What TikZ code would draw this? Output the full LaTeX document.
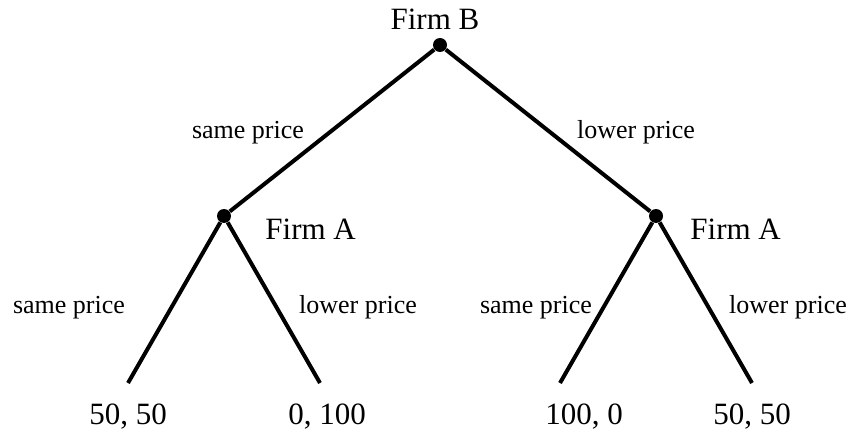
\documentclass[tikz,border=0pt]{standalone}
\usepackage{fontspec}
\setmainfont{Liberation Serif}
\usetikzlibrary{positioning}
\tikzset{
    decision/.style={circle,fill=black,inner sep=0pt,minimum size=7pt},
    every edge/.style={draw,line width=2pt},
    player/.style={font=\fontsize{15.5}{18}\selectfont,inner sep=0pt},
    move/.style={font=\fontsize{13}{15}\selectfont,inner sep=0pt,anchor=base},
    payoff/.style={font=\fontsize{15.5}{18}\selectfont,inner sep=0pt,anchor=base},
}
\begin{document}
\begin{tikzpicture}[x=0.5pt,y=-0.5pt]
    \useasboundingbox (0,0) rectangle (852,433);

    % decision nodes
    \node[decision] (fb) at (440,45) {};
    \node[decision] (fal) at (224,216) {};
    \node[decision] (far) at (656,216) {};

    % ends of the branches
    \coordinate (ll) at (128,383);
    \coordinate (lr) at (320,383);
    \coordinate (rl) at (560,383);
    \coordinate (rr) at (752,383);

    \path
    (fb) edge (fal)
    (fb) edge (far)
    (fal) edge (ll)
    (fal) edge (lr)
    (far) edge (rl)
    (far) edge (rr);

    % players
    \node[player,anchor=base] (nb) at (435,30) {Firm B};
    \node[player,anchor=base west] (nal) at (265,239) {Firm A};
    \node[player,anchor=base west] (nar) at (690,239) {Firm A};

    % moves
    \node[move] (mbs) at (248,139) {same price};
    \node[move] (mbl) at (636,139) {lower price};
    \node[move] (mls) at (69,313) {same price};
    \node[move] (mll) at (358,313) {lower price};
    \node[move] (mrs) at (536,313) {same price};
    \node[move] (mrl) at (788,313) {lower price};

    % payoffs
    \node[payoff] (pll) at (128,424) {50, 50};
    \node[payoff] (plr) at (327,424) {0, 100};
    \node[payoff] (prl) at (584,424) {100, 0};
    \node[payoff] (prr) at (752,424) {50, 50};
\end{tikzpicture}
\end{document}
